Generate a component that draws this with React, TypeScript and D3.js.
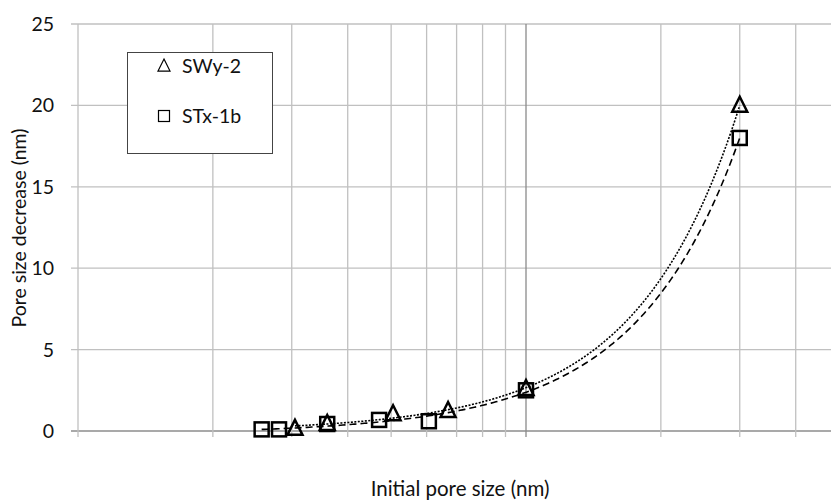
import React from "react";
import * as d3 from "d3";

// Initial pore size (nm) and pore size decrease (nm) for each clay
const swyX = [3.05, 3.6, 5.05, 6.7, 10, 30];
const swyY = [0.15, 0.45, 1.05, 1.25, 2.6, 20];
const stxX = [2.57, 2.81, 3.6, 4.7, 6.07, 10, 30];
const stxY = [0.1, 0.1, 0.43, 0.68, 0.6, 2.5, 18];

const yTicks = [0, 5, 10, 15, 20, 25];
const xGrid = [1, 2, 3, 4, 5, 6, 7, 8, 9, 10, 20, 30, 40];
const seriesNames = ["SWy-2", "STx-1b"];

const W = 831;
const H = 501;
const FONT = "Lato, 'Open Sans', sans-serif";
const FS = 19.5;

// Least-squares quadratic trend y = c0 + c1 x + c2 x^2
function quadFit(xs: number[], ys: number[]) {
  const S = [0, 0, 0, 0, 0];
  const T = [0, 0, 0];
  xs.forEach((xv, i) => {
    for (let k = 0; k < 5; k++) S[k] += Math.pow(xv, k);
    for (let k = 0; k < 3; k++) T[k] += ys[i] * Math.pow(xv, k);
  });
  const M = [
    [S[0], S[1], S[2], T[0]],
    [S[1], S[2], S[3], T[1]],
    [S[2], S[3], S[4], T[2]],
  ];
  for (let c = 0; c < 3; c++) {
    let p = c;
    for (let r = c + 1; r < 3; r++) if (Math.abs(M[r][c]) > Math.abs(M[p][c])) p = r;
    [M[c], M[p]] = [M[p], M[c]];
    for (let r = 0; r < 3; r++) {
      if (r === c) continue;
      const f = M[r][c] / M[c][c];
      for (let k = c; k < 4; k++) M[r][k] -= f * M[c][k];
    }
  }
  const coef = M.map((row, i) => row[3] / row[i]);
  return (v: number) => coef[0] + coef[1] * v + coef[2] * v * v;
}

export default function App() {
  const x = d3.scaleLog().domain([1, 100]).range([78, 974]);
  const y = d3.scaleLinear().domain([0, 25]).range([431, 24]);
  const plotLeft = 78;
  const plotRight = W;

  const trend = (xs: number[], ys: number[]) => {
    const f = quadFit(xs, ys);
    const [lo, hi] = d3.extent(xs) as [number, number];
    const pts = d3.range(0, 201).map((i) => {
      const v = lo * Math.pow(hi / lo, i / 200);
      return [v, f(v)] as [number, number];
    });
    return d3
      .line<[number, number]>()
      .x((d) => x(d[0]))
      .y((d) => y(d[1]))(pts)!;
  };

  const tri = (cx: number, cy: number, s: number) =>
    `M${cx},${cy - s * 0.58} L${cx + s / 2},${cy + s * 0.42} L${cx - s / 2},${cy + s * 0.42} Z`;

  return (
    <svg
      width={W}
      height={H}
      style={{ position: "absolute", left: 0, top: 0, background: "#fff" }}
      fontFamily={FONT}
    >
      {/* horizontal grid */}
      {yTicks.map((t) => (
        <line
          key={"h" + t}
          x1={plotLeft - 7}
          x2={plotRight}
          y1={y(t)}
          y2={y(t)}
          stroke={t === 0 ? "#8c8c8c" : "#c0c0c0"}
          strokeWidth={1.3}
        />
      ))}
      {/* vertical grid */}
      {xGrid.map((t) => (
        <line
          key={"v" + t}
          x1={x(t)}
          x2={x(t)}
          y1={y(25)}
          y2={y(0) + 6}
          stroke={t === 10 ? "#8a8a8a" : "#c0c0c0"}
          strokeWidth={1.3}
        />
      ))}
      {/* y tick labels */}
      {yTicks.map((t) => (
        <text
          key={"yl" + t}
          x={54}
          y={y(t)}
          dy="0.36em"
          textAnchor="end"
          fontSize={FS}
          fill="#111"
        >
          {t}
        </text>
      ))}
      {/* axis titles */}
      <text
        transform={`translate(26,228) rotate(-90)`}
        textAnchor="middle"
        fontSize={FS}
        fill="#111"
      >
        Pore size decrease (nm)
      </text>
      <text x={460} y={496} textAnchor="middle" fontSize={20.5} fill="#111">
        Initial pore size (nm)
      </text>

      {/* trendlines */}
      <path
        d={trend(stxX, stxY)}
        fill="none"
        stroke="#000"
        strokeWidth={1.6}
        strokeDasharray="7,4"
      />
      <path
        d={trend(swyX, swyY)}
        fill="none"
        stroke="#000"
        strokeWidth={1.6}
        strokeDasharray="2,1.5"
      />

      {/* markers */}
      {stxX.map((v, i) => (
        <rect
          key={"s" + i}
          x={x(v) - 7}
          y={y(stxY[i]) - 7}
          width={14}
          height={14}
          fill="none"
          stroke="#000"
          strokeWidth={2.5}
        />
      ))}
      {swyX.map((v, i) => (
        <path
          key={"t" + i}
          d={tri(x(v), y(swyY[i]), 15)}
          fill="none"
          stroke="#000"
          strokeWidth={2.5}
          strokeLinejoin="miter"
        />
      ))}

      {/* legend */}
      <rect x={127.5} y={52.5} width={145} height={101} fill="#fff" stroke="#444" strokeWidth={1} />
      <path d={tri(164, 66, 12)} fill="none" stroke="#000" strokeWidth={1.2} />
      <text x={182} y={66} dy="0.36em" fontSize={FS} fill="#111">
        {seriesNames[0]}
      </text>
      <rect x={158.5} y={110.5} width={11} height={11} fill="none" stroke="#000" strokeWidth={1.2} />
      <text x={182} y={116} dy="0.36em" fontSize={FS} fill="#111">
        {seriesNames[1]}
      </text>
    </svg>
  );
}
